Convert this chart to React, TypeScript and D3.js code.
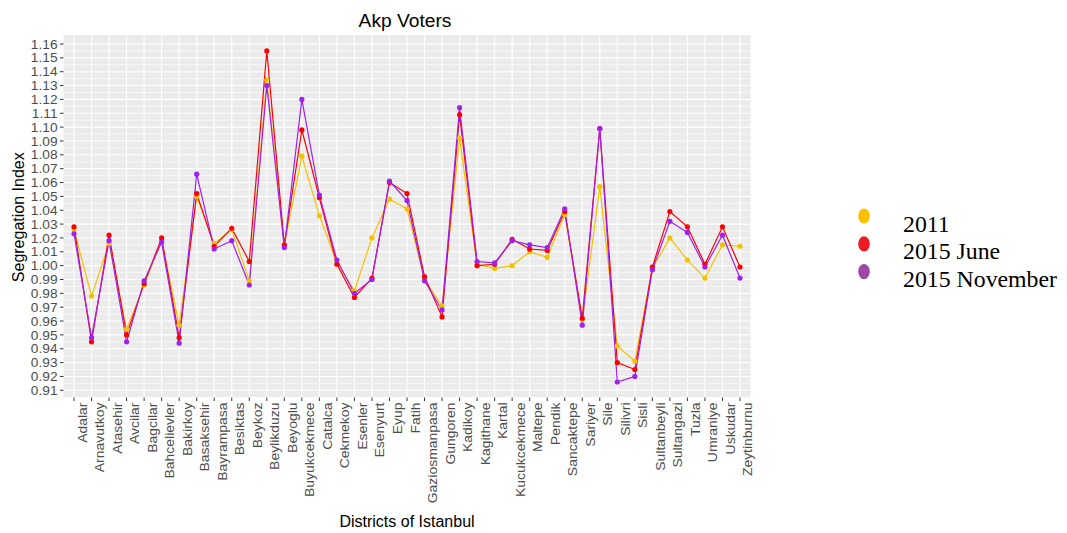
import React from "react";
import * as d3 from "d3";

const districts = ["Adalar","Arnavutkoy","Atasehir","Avcilar","Bagcilar","Bahcelievler","Bakirkoy","Basaksehir","Bayrampasa","Besiktas","Beykoz","Beylikduzu","Beyoglu","Buyukcekmece","Catalca","Cekmekoy","Esenler","Esenyurt","Eyup","Fatih","Gaziosmanpasa","Gungoren","Kadikoy","Kagithane","Kartal","Kucukcekmece","Maltepe","Pendik","Sancaktepe","Sariyer","Sile","Silivri","Sisli","Sultanbeyli","Sultangazi","Tuzla","Umraniye","Uskudar","Zeytinburnu"];

const v2011 = [1.026,0.978,1.016,0.954,0.986,1.018,0.957,1.050,1.016,1.026,0.989,1.134,1.015,1.079,1.036,1.002,0.982,1.020,1.048,1.041,0.990,0.971,1.092,1.001,0.998,1.000,1.010,1.006,1.037,0.961,1.057,0.942,0.931,0.998,1.020,1.004,0.991,1.015,1.014];
const vJune = [1.028,0.945,1.022,0.950,0.987,1.020,0.948,1.052,1.014,1.027,1.003,1.155,1.015,1.098,1.049,1.001,0.977,0.991,1.060,1.052,0.992,0.963,1.109,1.000,1.001,1.019,1.012,1.011,1.039,0.962,1.099,0.930,0.925,0.999,1.039,1.028,1.001,1.028,0.999];
const vNov = [1.023,0.948,1.018,0.945,0.989,1.017,0.944,1.066,1.012,1.018,0.986,1.130,1.013,1.120,1.051,1.004,0.980,0.990,1.061,1.047,0.989,0.968,1.114,1.003,1.002,1.018,1.015,1.013,1.041,0.957,1.099,0.916,0.920,0.997,1.032,1.024,0.999,1.022,0.991];

const seriesNames = ["2011", "2015 June", "2015 November"];
const yTicks = d3.range(91, 117).map((d) => d / 100);

const lineColors = ["#F2C200", "#FF0000", "#A020F0"];
const legendColors = ["#FFC000", "#ED1C24", "#9E48A8"];

export default function App() {
  const W = 1067, H = 533;
  const left = 63.5, right = 750.5, top = 35, bottom = 397.5;
  const x = d3.scalePoint<string>().domain(districts).range([left, right]).padding(0.6);
  const y = d3.scaleLinear().domain([0.9048, 1.1665]).range([bottom, top]);
  const minor = yTicks.slice(0, -1).map((t) => t + 0.005).concat([0.905]);
  const series = [v2011, vJune, vNov];
  const line = d3.line<number>().x((_, i) => x(districts[i])!).y((d) => y(d));
  const font = "'Liberation Sans', Arial, sans-serif";

  return (
    <svg width={W} height={H} style={{ position: "absolute", left: 0, top: 0 }}>
      <rect x={0} y={0} width={W} height={H} fill="#fff" />
      <rect x={left} y={top} width={right - left} height={bottom - top} fill="#EBEBEB" />
      {minor.filter((t) => y(t) >= top && y(t) <= bottom).map((t, i) => (
        <line key={"mn" + i} x1={left} x2={right} y1={y(t)} y2={y(t)} stroke="#fff" strokeWidth={0.6} />
      ))}
      {yTicks.map((t, i) => (
        <line key={"mj" + i} x1={left} x2={right} y1={y(t)} y2={y(t)} stroke="#fff" strokeWidth={1.1} />
      ))}
      {districts.map((d) => (
        <line key={"vx" + d} x1={x(d)} x2={x(d)} y1={top} y2={bottom} stroke="#fff" strokeWidth={1.1} />
      ))}
      {series.map((s, k) => (
        <path key={"l" + k} d={line(s)!} fill="none" stroke={lineColors[k]} strokeWidth={1.2} />
      ))}
      {series.map((s, k) =>
        s.map((v, i) => (
          <circle key={"p" + k + "_" + i} cx={x(districts[i])} cy={y(v)} r={2.6} fill={lineColors[k]} />
        ))
      )}
      {yTicks.map((t, i) => (
        <g key={"yt" + i}>
          <line x1={left - 3.5} x2={left} y1={y(t)} y2={y(t)} stroke="#333" strokeWidth={1} />
          <text
            transform={`translate(${left - 6},${y(t)}) scale(1.07,1)`}
            dy="0.36em"
            textAnchor="end"
            fontFamily={font}
            fontSize={12.8}
            fill="#4D4D4D"
          >
            {t.toFixed(2)}
          </text>
        </g>
      ))}
      {districts.map((d) => (
        <g key={"xt" + d}>
          <line x1={x(d)} x2={x(d)} y1={bottom} y2={bottom + 3.5} stroke="#333" strokeWidth={1} />
          <text
            transform={`translate(${x(d)! + 12.5},${bottom + 5}) rotate(-90) scale(1.09,1)`}
            textAnchor="end"
            fontFamily={font}
            fontSize={12.8}
            fill="#4D4D4D"
          >
            {d}
          </text>
        </g>
      ))}
      <text x={(left + right) / 2 - 2} y={26.5} textAnchor="middle" fontFamily={font} fontSize={19.2} fill="#000">
        Akp Voters
      </text>
      <text x={(left + right) / 2} y={526.5} textAnchor="middle" fontFamily={font} fontSize={16} fill="#000">
        Districts of Istanbul
      </text>
      <text transform={`translate(23.5,${(top + bottom) / 2 + 1}) rotate(-90)`} textAnchor="middle" fontFamily={font} fontSize={16} fill="#000">
        Segregation Index
      </text>
      {seriesNames.map((n, k) => (
        <g key={"lg" + k}>
          <ellipse cx={864} cy={216 + k * 27.8} rx={5.8} ry={7.6} fill={legendColors[k]} />
          <text x={903} y={231.7 + k * 27.6} fontFamily="'Liberation Serif', 'Times New Roman', serif" fontSize={23.8} fill="#000">
            {n}
          </text>
        </g>
      ))}
    </svg>
  );
}
